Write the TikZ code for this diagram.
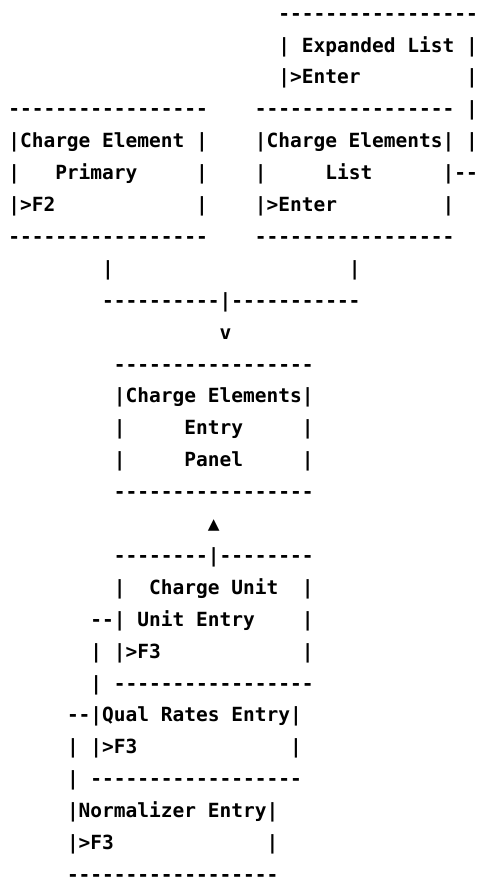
\documentclass[tikz,border=0pt]{standalone}
\usepackage{fontspec}
\setmonofont{DejaVu Sans Mono}
\tikzset{asc/.style={anchor=base west, inner sep=0pt, outer sep=0pt, font=\ttfamily\bfseries\fontsize{19.5bp}{24bp}\selectfont, text=black}}
\newcommand{\asciirow}[3]{\node[asc] (#1) at (8.3,{52+(#2-2)*31.9}) {#3};}
\begin{document}
\begin{tikzpicture}[x=1bp,y=-1bp]
\useasboundingbox (0,0) rectangle (479,877);
\fill[white] (0,0) rectangle (479,877);
\asciirow{r1}{1}{~~~~~~~~~~~~~~~~~~~~~~~------------------}
\asciirow{r2}{2}{~~~~~~~~~~~~~~~~~~~~~~~|~Expanded~List~|}
\asciirow{r3}{3}{~~~~~~~~~~~~~~~~~~~~~~~|>Enter~~~~~~~~~|}
\asciirow{r4}{4}{-----------------~~~~-----------------~|}
\asciirow{r5}{5}{|Charge~Element~|~~~~|Charge~Elements|~|}
\asciirow{r6}{6}{|~~~Primary~~~~~|~~~~|~~~~~List~~~~~~|--}
\asciirow{r7}{7}{|>F2~~~~~~~~~~~~|~~~~|>Enter~~~~~~~~~|}
\asciirow{r8}{8}{-----------------~~~~-----------------}
\asciirow{r9}{9}{~~~~~~~~|~~~~~~~~~~~~~~~~~~~~|}
\asciirow{r10}{10}{~~~~~~~~----------|-----------}
\asciirow{r11}{11}{~~~~~~~~~~~~~~~~~~v}
\asciirow{r12}{12}{~~~~~~~~~-----------------}
\asciirow{r13}{13}{~~~~~~~~~|Charge~Elements|}
\asciirow{r14}{14}{~~~~~~~~~|~~~~~Entry~~~~~|}
\asciirow{r15}{15}{~~~~~~~~~|~~~~~Panel~~~~~|}
\asciirow{r16}{16}{~~~~~~~~~-----------------}
\asciirow{r17}{17}{~~~~~~~~~~~~~~~~~▲}
\asciirow{r18}{18}{~~~~~~~~~--------|--------}
\asciirow{r19}{19}{~~~~~~~~~|~~Charge~Unit~~|}
\asciirow{r20}{20}{~~~~~~~--|~Unit~Entry~~~~|}
\asciirow{r21}{21}{~~~~~~~|~|>F3~~~~~~~~~~~~|}
\asciirow{r22}{22}{~~~~~~~|~-----------------}
\asciirow{r23}{23}{~~~~~--|Qual~Rates~Entry|}
\asciirow{r24}{24}{~~~~~|~|>F3~~~~~~~~~~~~~|}
\asciirow{r25}{25}{~~~~~|~------------------}
\asciirow{r26}{26}{~~~~~|Normalizer~Entry|}
\asciirow{r27}{27}{~~~~~|>F3~~~~~~~~~~~~~|}
\asciirow{r28}{28}{~~~~~------------------}
\end{tikzpicture}
\end{document}
